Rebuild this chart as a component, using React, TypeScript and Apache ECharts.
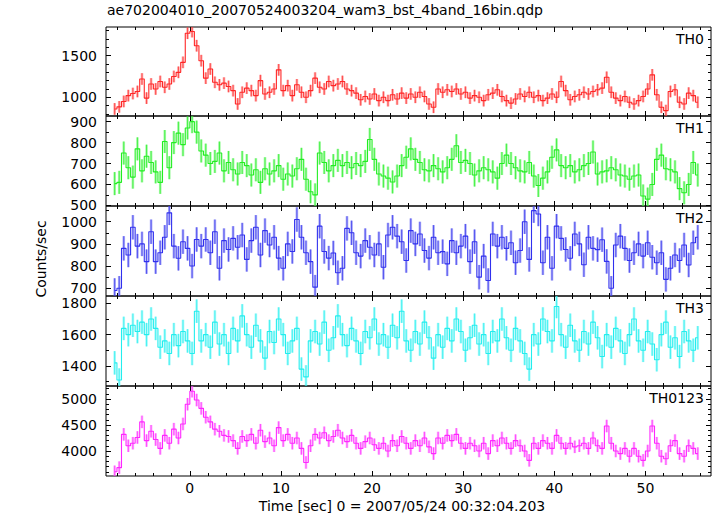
import React, { useEffect, useRef } from "react";
import * as echarts from "echarts";

// ---- binning (time bins of the light curve, seconds) ----
const BIN_START = -8.25;
const BIN_WIDTH = 0.5;

// ---- count rates (counts/sec) ----
const TH0 = [
  860, 885, 950, 1020, 1045, 1070, 1220, 990, 1160, 1100,
  1190, 1120, 1160, 1250, 1300, 1420, 1770, 1790, 1620, 1440,
  1230, 1340, 1180, 1150, 1170, 1130, 1080, 920, 1060, 1110,
  1080, 1020, 1200, 1040, 1060, 1100, 1330, 1080, 1140, 1020,
  1150, 1060, 1000, 1080, 1230, 1120, 1100, 1190, 1140, 1160,
  1190, 1100, 1080, 1050, 970, 1010, 980, 1040, 960, 1000,
  960, 1030, 980, 1050, 990, 1040, 1000, 1060, 1010, 920,
  880, 1100, 1060, 1090, 1070, 1100, 1040, 1060, 990, 1020,
  1000, 960, 1030, 1050, 1090, 1010, 960, 930, 980, 1040,
  1010, 1060, 1000, 1020, 960, 990, 1040, 1000, 1190, 1080,
  970, 1010, 1030, 1060, 1040, 1070, 1090, 1110, 1240, 1060,
  990, 960, 1010, 940, 920, 960, 1010, 1100, 1270, 1030,
  880, 840, 1070, 1090, 940, 920, 1050, 1020, 940,
];
const TH1 = [
  604, 610, 750, 680, 635, 770, 665, 735, 705, 660,
  610, 805, 680, 800, 845, 790, 870, 900, 850, 760,
  740, 700, 710, 750, 665, 705, 670, 650, 705, 690,
  645, 670, 610, 675, 650, 665, 690, 625, 650, 640,
  675, 720, 625, 565, 550, 750, 705, 665, 690, 715,
  690, 705, 680, 700, 690, 710, 815, 720, 650, 640,
  630, 612, 640, 690, 730, 770, 720, 705, 670, 665,
  690, 675, 660, 680, 720, 785, 705, 715, 700, 645,
  665, 680, 670, 660, 630, 700, 740, 700, 680, 665,
  660, 705, 640, 595, 630, 660, 730, 765, 690, 680,
  690, 660, 670, 690, 700, 755, 650, 660, 665, 680,
  670, 645, 640, 625, 640, 645, 545, 530, 600, 720,
  740, 675, 670, 660, 580, 560, 600, 705, 645,
];
const TH2 = [
  690, 700, 880, 850, 975, 890, 900, 820, 955, 820,
  860, 930, 1040, 890, 835, 910, 880, 800, 920, 890,
  920, 860, 955, 790, 915, 875, 925, 885, 940, 830,
  915, 975, 850, 960, 895, 930, 836, 790, 900, 866,
  1010, 930, 860, 820, 705, 980, 866, 836, 859, 770,
  790, 970, 950, 860, 845, 915, 885, 850, 900, 795,
  940, 975, 935, 910, 825, 960, 900, 945, 870, 836,
  930, 860, 865, 810, 915, 860, 890, 935, 820, 910,
  750, 845, 735, 945, 890, 930, 880, 905, 815, 870,
  1000, 830, 1050, 1035, 815, 930, 790, 980, 925, 875,
  835, 945, 900, 806, 930, 880, 874, 919, 821, 700,
  895, 935, 880, 825, 860, 900, 845, 905, 840, 815,
  860, 740, 790, 850, 825, 895, 805, 905, 930,
];
const TH3 = [
  1420, 1310, 1640, 1600, 1660, 1620, 1680, 1600, 1700, 1640,
  1520, 1560, 1480, 1600, 1530, 1620, 1560, 1480, 1750, 1560,
  1600, 1520, 1680, 1540, 1600, 1480, 1640, 1560, 1720, 1600,
  1520, 1660, 1560, 1450, 1620, 1550, 1700, 1600, 1480, 1560,
  1640, 1380, 1330, 1560, 1620, 1540, 1680, 1500, 1580, 1720,
  1600, 1530, 1640, 1560, 1480, 1620, 1580, 1700, 1540, 1600,
  1520, 1660, 1580, 1750, 1560, 1500, 1620, 1540, 1680, 1580,
  1450, 1600, 1520, 1640, 1560, 1700, 1620, 1500, 1580, 1660,
  1540, 1600, 1480, 1620, 1560, 1700, 1580, 1500, 1640, 1560,
  1480, 1380, 1600, 1540, 1700, 1620, 1560, 1780, 1600, 1520,
  1660, 1560, 1500, 1620, 1540, 1680, 1580, 1460, 1600, 1520,
  1640, 1560, 1480, 1600, 1700, 1560, 1500, 1620, 1540, 1440,
  1600, 1680, 1520, 1580, 1460, 1620, 1560, 1500, 1580,
];
const TH0123 = [
  3600, 3680, 4320, 4100, 4150, 4260, 4560, 4200, 4380, 4220,
  4050, 4300, 4150, 4420, 4250, 4520, 4900, 5150, 4980, 4820,
  4650, 4560, 4420, 4380, 4300, 4280, 4200, 4050, 4280, 4200,
  4320, 4150, 4400, 4180, 4250, 4100, 4450, 4200, 4320, 4150,
  4250, 4050, 3780, 4100, 4320, 4250, 4350, 4200, 4280, 4400,
  4250, 4180, 4300, 4150, 4050, 4180, 4250, 4120, 4050, 4150,
  4000, 4200, 4100, 4280, 4150, 4050, 4200, 4100, 4250, 4080,
  3950, 4250, 4150, 4300, 4200, 4320, 4150, 4050, 4150, 4100,
  4000, 4150, 3950, 4200, 4100, 4250, 4150, 4050, 4200, 4100,
  4000, 3820, 4150, 4050, 4200, 4150, 4050, 4300, 4150, 4050,
  4150, 4080, 4100, 4150, 4050, 4250, 4100, 4050, 4480, 4150,
  4000, 3950, 4050, 3900, 4050, 3900, 3820, 4000, 4480, 4150,
  3900, 3850, 4100, 4200, 3950, 3900, 4100, 4050, 3950,
];

// typical 1-sigma error half-widths per band (counts/sec)
const ERR_TH0 = 70;
const ERR_TH1 = 55;
const ERR_TH2 = 55;
const ERR_TH3 = 75;
const ERR_TH0123 = 120;

// ---- axes ----
const X_MIN = -9.2;
const X_MAX = 57.2;
const X_MAJOR = [0, 10, 20, 30, 40, 50];
const X_MINOR = [-8, -6, -4, -2, 2, 4, 6, 8, 12, 14, 16, 18, 22, 24, 26, 28, 32, 34, 36, 38, 42, 44, 46, 48, 52, 54, 56];

const Y_RANGE_TH0 = [775, 1845];
const Y_RANGE_TH1 = [497, 927];
const Y_RANGE_TH2 = [665, 1071];
const Y_RANGE_TH3 = [1272, 1847];
const Y_RANGE_TH0123 = [3519, 5250];

const Y_LABELS_TH0 = [1000, 1500];
const Y_LABELS_TH1 = [500, 600, 700, 800, 900];
const Y_LABELS_TH2 = [700, 800, 900, 1000];
const Y_LABELS_TH3 = [1400, 1600, 1800];
const Y_LABELS_TH0123 = [4000, 4500, 5000];

const Y_MINOR_TH0 = [800, 900, 1100, 1200, 1300, 1400, 1600, 1700, 1800];
const Y_MINOR_TH1 = [550, 650, 750, 850];
const Y_MINOR_TH2 = [750, 850, 950, 1050];
const Y_MINOR_TH3 = [1300, 1500, 1700];
const Y_MINOR_TH0123 = [3600, 3700, 3800, 3900, 4100, 4200, 4300, 4400, 4600, 4700, 4800, 4900, 5100, 5200];

const PANEL_NAMES = ["TH0", "TH1", "TH2", "TH3", "TH0123"];
const TITLE = "ae702004010_20070524003204_wam3_bst_4band_16bin.qdp";
const X_TITLE = "Time [sec] 0 = 2007/05/24 00:32:04.203";
const Y_TITLE = "Counts/sec";

const FONT = "DejaVu Sans";

export default function App() {
  const ref = useRef<HTMLDivElement>(null);

  useEffect(() => {
    if (!ref.current) return;
    const chart = echarts.init(ref.current, null, { renderer: "svg" });

    const panels = [
      { name: PANEL_NAMES[0], data: TH0, err: ERR_TH0, range: Y_RANGE_TH0, labels: Y_LABELS_TH0, minor: Y_MINOR_TH0, line: "#ff2626", bar: "#ff5a5a" },
      { name: PANEL_NAMES[1], data: TH1, err: ERR_TH1, range: Y_RANGE_TH1, labels: Y_LABELS_TH1, minor: Y_MINOR_TH1, line: "#22ee22", bar: "#55f555" },
      { name: PANEL_NAMES[2], data: TH2, err: ERR_TH2, range: Y_RANGE_TH2, labels: Y_LABELS_TH2, minor: Y_MINOR_TH2, line: "#3030ee", bar: "#6060f2" },
      { name: PANEL_NAMES[3], data: TH3, err: ERR_TH3, range: Y_RANGE_TH3, labels: Y_LABELS_TH3, minor: Y_MINOR_TH3, line: "#22eeee", bar: "#55f5f5" },
      { name: PANEL_NAMES[4], data: TH0123, err: ERR_TH0123, range: Y_RANGE_TH0123, labels: Y_LABELS_TH0123, minor: Y_MINOR_TH0123, line: "#ff26ff", bar: "#ff60ff" },
    ];

    const tops = [27, 116, 206, 296, 386];
    const heights = [89, 90, 90, 90, 90];

    const grids: any[] = [];
    const xAxes: any[] = [];
    const yAxes: any[] = [];
    const series: any[] = [];
    const graphics: any[] = [];

    const tickStyle = { color: "#000", width: 1 };
    const labelStyle = { color: "#000", fontFamily: FONT, fontSize: 14, formatter: (v: number) => String(v) };

    panels.forEach((p, i) => {
      grids.push({
        left: 106, width: 605, top: tops[i], height: heights[i],
        show: true, borderColor: "#000", borderWidth: 1, backgroundColor: "transparent",
        containLabel: false,
      });
      const xBase = {
        type: "value", gridIndex: i, min: X_MIN, max: X_MAX,
        splitLine: { show: false }, axisLine: { show: false, onZero: false },
      };
      const xi = xAxes.length;
      xAxes.push({
        ...xBase, position: "bottom",
        axisTick: { inside: true, length: 5, customValues: X_MAJOR, lineStyle: tickStyle },
        axisLabel: { show: i === panels.length - 1, customValues: X_MAJOR, margin: 5, ...labelStyle },
      });
      xAxes.push({ ...xBase, position: "bottom", axisTick: { inside: true, length: 3, customValues: X_MINOR, lineStyle: tickStyle }, axisLabel: { show: false } });
      xAxes.push({ ...xBase, position: "top", axisTick: { inside: true, length: 5, customValues: X_MAJOR, lineStyle: tickStyle }, axisLabel: { show: false } });
      xAxes.push({ ...xBase, position: "top", axisTick: { inside: true, length: 3, customValues: X_MINOR, lineStyle: tickStyle }, axisLabel: { show: false } });

      const yBase = {
        type: "value", gridIndex: i, min: p.range[0], max: p.range[1],
        splitLine: { show: false }, axisLine: { show: false, onZero: false },
      };
      const yi = yAxes.length;
      yAxes.push({
        ...yBase, position: "left",
        axisTick: { inside: true, length: 5, customValues: p.labels, lineStyle: tickStyle },
        axisLabel: { show: true, customValues: p.labels, margin: 9, ...labelStyle },
      });
      yAxes.push({ ...yBase, position: "left", axisTick: { inside: true, length: 3, customValues: p.minor, lineStyle: tickStyle }, axisLabel: { show: false } });
      yAxes.push({ ...yBase, position: "right", axisTick: { inside: true, length: 5, customValues: p.labels, lineStyle: tickStyle }, axisLabel: { show: false } });
      yAxes.push({ ...yBase, position: "right", axisTick: { inside: true, length: 3, customValues: p.minor, lineStyle: tickStyle }, axisLabel: { show: false } });

      const pts = p.data.map((v, k) => [BIN_START + k * BIN_WIDTH, v, p.err]);

      series.push({
        type: "custom",
        xAxisIndex: xi, yAxisIndex: yi,
        clip: true,
        silent: true,
        data: pts,
        renderItem: (params: any, api: any) => {
          const t = api.value(0), v = api.value(1), e = api.value(2);
          const a = api.coord([t, v + e]);
          const b = api.coord([t, v - e]);
          return {
            type: "group",
            children: [
              { type: "line", shape: { x1: a[0], y1: a[1], x2: b[0], y2: b[1] }, style: { stroke: p.bar, lineWidth: 2.6, opacity: 0.5 } },
              { type: "line", shape: { x1: a[0], y1: a[1], x2: b[0], y2: b[1] }, style: { stroke: p.line, lineWidth: 0.8, opacity: 0.9 } },
            ],
          };
        },
      });
      series.push({
        type: "line",
        xAxisIndex: xi, yAxisIndex: yi,
        step: "middle",
        showSymbol: false,
        symbol: "none",
        clip: true,
        silent: true,
        data: pts.map((d) => [d[0], d[1]]),
        lineStyle: { color: p.line, width: 1.1 },
      });

      graphics.push({
        type: "text",
        x: 704, y: tops[i] + 5,
        style: { text: p.name, fill: "#000", font: `14px "${FONT}"`, textAlign: "right", textVerticalAlign: "top" },
      });
    });

    graphics.push({
      type: "text", x: 107, y: 3,
      style: { text: TITLE, fill: "#000", font: `14px "${FONT}"`, textAlign: "left", textVerticalAlign: "top" },
    });
    graphics.push({
      type: "text", x: 402, y: 499,
      style: { text: X_TITLE, fill: "#000", font: `14px "${FONT}"`, textAlign: "center", textVerticalAlign: "top" },
    });
    graphics.push({
      type: "text", x: 41, y: 259, rotation: Math.PI / 2,
      style: { text: Y_TITLE, fill: "#000", font: `14px "${FONT}"`, textAlign: "center", textVerticalAlign: "middle" },
    });

    chart.setOption({
      animation: false,
      backgroundColor: "#fff",
      grid: grids,
      xAxis: xAxes,
      yAxis: yAxes,
      series,
      graphic: graphics,
    });

    return () => chart.dispose();
  }, []);

  return <div ref={ref} style={{ position: "fixed", left: 0, top: 0, width: 717, height: 516 }} />;
}
